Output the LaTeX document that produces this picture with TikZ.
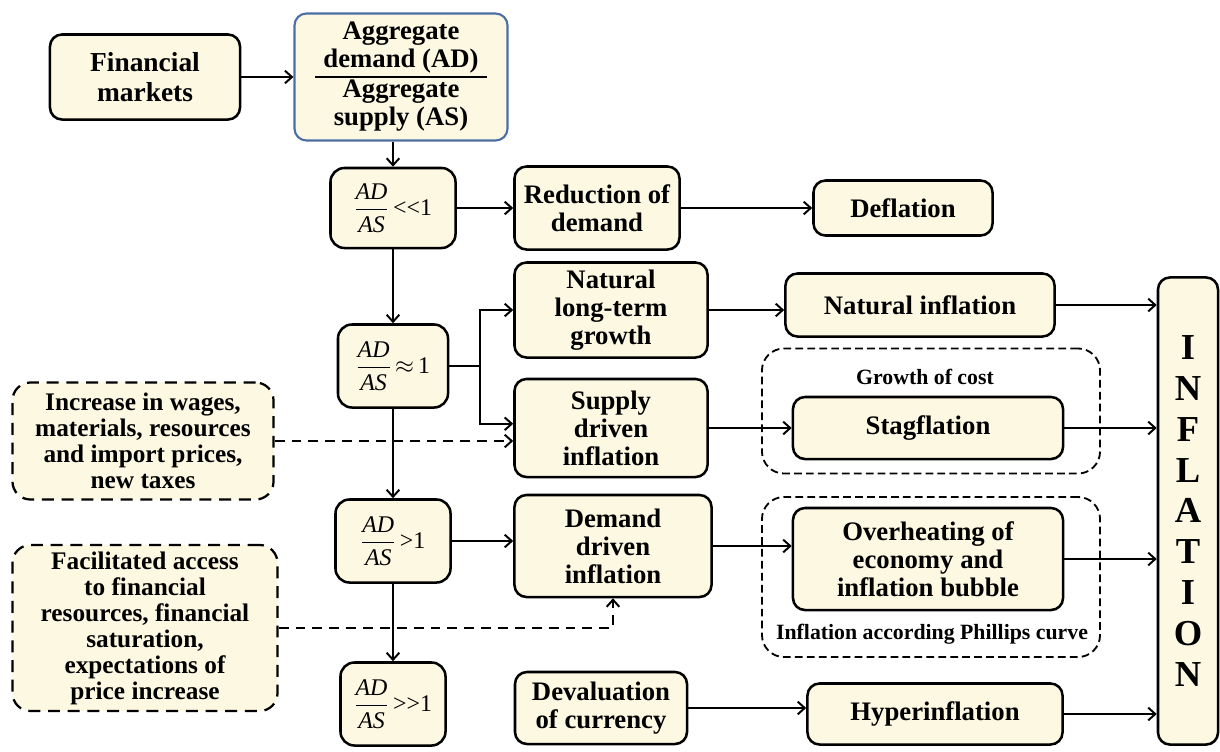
\documentclass[tikz,border=0pt]{standalone}
\usepackage{amsmath}
\usepackage{fontspec}
\setmainfont{Liberation Serif}
\usetikzlibrary{arrows.meta}
\definecolor{cream}{RGB}{252,248,226}
\definecolor{tanedge}{RGB}{212,203,168}
\definecolor{aggblue}{RGB}{75,110,165}
\setlength{\arrayrulewidth}{1.2pt}
\pgfdeclarehorizontalshading{creamglow}{100bp}{color(0bp)=(tanedge); color(14bp)=(cream); color(86bp)=(cream); color(100bp)=(tanedge)}
\pgfdeclareverticalshading{creamglowv}{100bp}{color(0bp)=(tanedge); color(14bp)=(cream); color(86bp)=(cream); color(100bp)=(tanedge)}

\begin{document}
\begin{tikzpicture}[x=0.025cm,y=-0.025cm,
	flowbox/.style={draw,line width=1.8pt,rounded corners=0.3cm,shading=creamglow,align=center,inner sep=2pt,font=\bfseries\fontsize{19}{20}\selectfont},
	ratiobox/.style={flowbox,rounded corners=0.35cm,font=\fontsize{17}{19}\selectfont},
	cause/.style={draw,line width=1.6pt,dash pattern=on 8.5pt off 5.5pt,rounded corners=0.45cm,fill=cream,align=center,font=\bfseries\fontsize{18}{18.5}\selectfont},
	dashframe/.style={draw,line width=1.3pt,dash pattern=on 5.5pt off 3pt,rounded corners=0.55cm},
	note/.style={font=\bfseries\fontsize{15.5}{16}\selectfont},
	arr/.style={line width=1.4pt,-{Straight Barb[length=5pt,width=9pt]}},
	dasharr/.style={arr,dash pattern=on 7pt off 5pt}]
	\useasboundingbox (0,0) rectangle (1220,751);

	\node[flowbox,minimum width=4.75cm,minimum height=2.125cm,font=\bfseries\fontsize{19.5}{21}\selectfont] (fin) at (145,77) {Financial\\markets};
	\node[flowbox,draw=aggblue,line width=1.5pt,minimum width=5.325cm,minimum height=3.175cm] (agg) at (401,77) {\begin{tabular}{@{\hspace{6pt}}c@{\hspace{6pt}}}Aggregate\\demand (AD)\\\hline Aggregate\\supply (AS)\end{tabular}};

	\node[ratiobox,minimum width=3.125cm,minimum height=2cm] (r1) at (393,208) {$\dfrac{\textit{AD}}{\textit{AS}}$\,<\kern0pt<1};
	\node[flowbox,minimum width=4.125cm,minimum height=2.075cm] (red) at (597,208) {Reduction of\\demand};
	\node[flowbox,minimum width=4.475cm,minimum height=1.375cm] (defl) at (903,208) {Deflation};

	\node[ratiobox,minimum width=2.75cm,minimum height=2.075cm] (r2) at (393,366) {$\dfrac{\textit{AD}}{\textit{AS}}$\,$\approx$\,1};
	\node[flowbox,minimum width=4.825cm,minimum height=2.375cm] (nat) at (611,310) {Natural\\long-term\\growth};
	\node[flowbox,minimum width=6.725cm,minimum height=1.575cm] (natinf) at (920,305) {Natural inflation};
	\node[flowbox,minimum width=4.825cm,minimum height=2.45cm] (sup) at (611,428) {Supply\\driven\\inflation};
	\node[dashframe,minimum width=8.45cm,minimum height=3.125cm] (costframe) at (931,411) {};
	\node[note] (costlbl) at (925,377) {Growth of cost};
	\node[flowbox,minimum width=6.75cm,minimum height=1.55cm] (stag) at (928,428) {Stagflation};
	\node[cause,minimum width=6.525cm,minimum height=2.925cm] (wages) at (143,441) {Increase in wages,\\materials, resources\\and import prices,\\new taxes};

	\node[ratiobox,minimum width=2.875cm,minimum height=2.075cm] (r3) at (393,541) {$\dfrac{\textit{AD}}{\textit{AS}}$\,>1};
	\node[flowbox,minimum width=4.925cm,minimum height=2.55cm] (dem) at (613,546) {Demand\\driven\\inflation};
	\node[dashframe,minimum width=8.45cm,minimum height=4cm] (phframe) at (931,577) {};
	\node[flowbox,minimum width=6.75cm,minimum height=2.55cm] (over) at (928,559) {Overheating of\\economy and\\inflation bubble};
	\node[note] (phlbl) at (932,634) {Inflation according Phillips curve};
	\node[cause,minimum width=6.625cm,minimum height=4.15cm] (fac) at (145,628) {Facilitated access\\to financial\\resources, financial\\saturation,\\expectations of\\price increase};

	\node[ratiobox,minimum width=2.625cm,minimum height=2.075cm] (r4) at (393,704) {$\dfrac{\textit{AD}}{\textit{AS}}$\,>\kern0pt>1};
	\node[flowbox,minimum width=4.3cm,minimum height=1.8cm] (dev) at (601,708) {Devaluation\\of currency};
	\node[flowbox,minimum width=6.375cm,minimum height=1.525cm] (hyp) at (935,714) {Hyperinflation};

	\node[flowbox,shading=creamglowv,minimum width=1.5cm,minimum height=11.675cm,font=\bfseries\fontsize{26}{29}\selectfont] (infl) at (1188,511) {I\\N\\F\\L\\A\\T\\I\\O\\N};

	\draw[arr] (fin) -- (agg);
	\draw[arr] (agg.south -| r1.north) -- (r1.north);
	\draw[arr] (r1) -- (red);
	\draw[arr] (red) -- (defl);
	\foreach \a/\b in {r1/r2,r2/r3,r3/r4}
		\draw[arr] (\a) -- (\b);

	\coordinate (fork) at (480,366);
	\draw[line width=1.4pt] (r2.east) -- (fork);
	\draw[arr] (fork) |- (nat.west);
	\draw[arr] (fork) |- ([yshift=3pt]sup.west);
	\draw[dasharr] (wages.east) -- (wages.east -| sup.west);
	\draw[arr] (r3.east) -- (r3.east -| dem.west);
	\draw[dasharr] (fac.east) -| (dem.south);

	\draw[arr] (nat.east) -- (nat.east -| natinf.west);
	\draw[arr] (sup.east) -- (sup.east -| stag.west);
	\draw[arr] (dem.east) -- (dem.east -| over.west);
	\draw[arr] (dev.east) -- (dev.east -| hyp.west);
	\foreach \n in {natinf,stag,over,hyp}
		\draw[arr] (\n.east) -- (\n.east -| infl.west);
\end{tikzpicture}
\end{document}
